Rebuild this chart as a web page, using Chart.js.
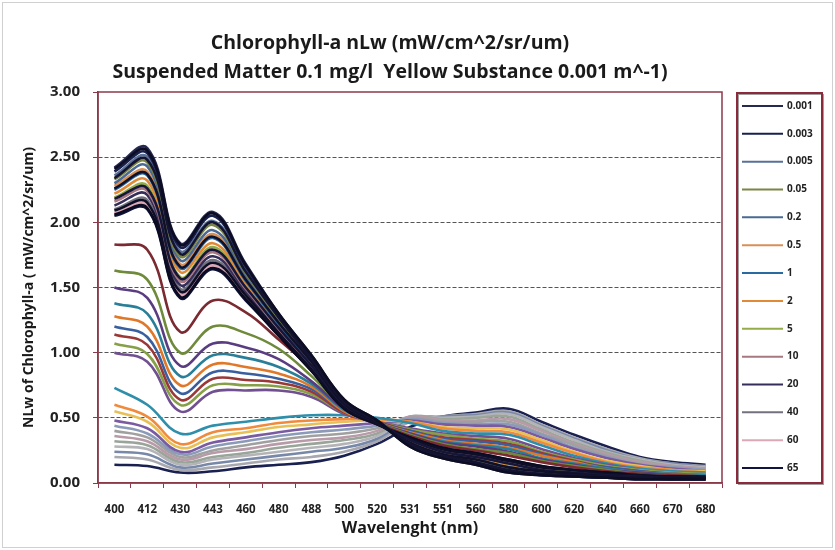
<!DOCTYPE html>
<html><head><meta charset="utf-8">
<script src="https://cdn.jsdelivr.net/npm/chart.js@4"></script>
<style>html,body{margin:0;padding:0;background:#fff}</style>
</head><body>
<canvas id="c" width="835" height="550"></canvas>
<script>
// ---- categories / labels ----
const wavelengths = ["400","412","430","443","460","480","488","500","520","531","551","560","580","600","620","640","660","670","680"];
const yTickLabels = ["0.00","0.50","1.00","1.50","2.00","2.50","3.00"];
const legendLabels = ["0.001","0.003","0.005","0.05","0.2","0.5","1","2","5","10","20","40","60","65"];
const titleLines = ["Chlorophyll-a nLw (mW/cm^2/sr/um)","Suspended Matter 0.1 mg/l  Yellow Substance 0.001 m^-1)"];
const xTitle = "Wavelenght (nm)";
const yTitle = "NLw of Chlorophyll-a ( mW/cm^2/sr/um)";

// ---- series values ----
const a01 = [2.42,2.57,1.84,2.08,1.68,1.30,0.98,0.64,0.48,0.28,0.19,0.14,0.08,0.06,0.05,0.04,0.03,0.03,0.03];
const a02 = [2.39,2.53,1.81,2.05,1.66,1.29,0.97,0.63,0.48,0.29,0.20,0.15,0.09,0.06,0.05,0.04,0.03,0.03,0.03];
const a03 = [2.36,2.50,1.78,2.01,1.64,1.28,0.96,0.63,0.47,0.29,0.20,0.15,0.09,0.07,0.05,0.04,0.03,0.03,0.03];
const a04 = [2.33,2.46,1.74,1.98,1.61,1.26,0.95,0.62,0.47,0.30,0.21,0.16,0.10,0.07,0.06,0.05,0.04,0.03,0.03];
const a05 = [2.30,2.43,1.71,1.94,1.59,1.25,0.94,0.62,0.47,0.30,0.21,0.16,0.11,0.08,0.06,0.05,0.04,0.03,0.03];
const a06 = [2.28,2.39,1.68,1.91,1.57,1.24,0.93,0.61,0.47,0.31,0.22,0.17,0.11,0.08,0.06,0.05,0.04,0.04,0.03];
const a07 = [2.25,2.36,1.65,1.88,1.55,1.22,0.92,0.61,0.46,0.31,0.22,0.18,0.12,0.09,0.07,0.05,0.04,0.04,0.04];
const a08 = [2.22,2.32,1.62,1.84,1.53,1.21,0.92,0.60,0.46,0.32,0.23,0.19,0.13,0.09,0.07,0.06,0.05,0.04,0.04];
const a09 = [2.19,2.28,1.58,1.81,1.51,1.20,0.91,0.60,0.46,0.32,0.24,0.19,0.14,0.10,0.08,0.06,0.05,0.04,0.04];
const a10 = [2.16,2.24,1.55,1.77,1.49,1.18,0.90,0.59,0.46,0.33,0.24,0.20,0.15,0.11,0.08,0.06,0.05,0.04,0.04];
const a11 = [2.13,2.21,1.52,1.74,1.47,1.17,0.89,0.59,0.46,0.33,0.25,0.21,0.16,0.11,0.09,0.07,0.05,0.05,0.04];
const a12 = [2.10,2.17,1.49,1.71,1.45,1.16,0.88,0.58,0.45,0.34,0.26,0.21,0.16,0.12,0.09,0.07,0.06,0.05,0.04];
const a13 = [2.07,2.13,1.45,1.67,1.42,1.14,0.87,0.58,0.45,0.34,0.26,0.22,0.17,0.12,0.10,0.07,0.06,0.05,0.05];
const a14 = [2.05,2.10,1.42,1.64,1.40,1.13,0.86,0.57,0.45,0.35,0.27,0.23,0.18,0.13,0.10,0.08,0.06,0.05,0.05];

// extra dark lines inside the dense top band (not named in the legend)
const d01 = [2.41,2.55,1.83,2.07,1.67,1.30,0.98,0.64,0.48,0.28,0.19,0.14,0.08,0.06,0.05,0.04,0.03,0.03,0.03];
const d02 = [2.34,2.48,1.76,2.00,1.62,1.27,0.95,0.62,0.47,0.30,0.21,0.16,0.10,0.07,0.06,0.05,0.04,0.03,0.03];
const d03 = [2.26,2.37,1.66,1.89,1.56,1.23,0.93,0.61,0.46,0.31,0.22,0.18,0.12,0.09,0.07,0.05,0.04,0.04,0.04];
const d04 = [2.18,2.26,1.57,1.79,1.50,1.19,0.90,0.60,0.46,0.33,0.24,0.20,0.15,0.10,0.08,0.06,0.05,0.04,0.04];
const d05 = [2.09,2.15,1.47,1.69,1.44,1.15,0.87,0.58,0.45,0.34,0.26,0.22,0.17,0.12,0.10,0.07,0.06,0.05,0.05];
const d06 = [2.06,2.11,1.43,1.65,1.41,1.13,0.86,0.57,0.45,0.35,0.27,0.23,0.18,0.13,0.10,0.08,0.06,0.05,0.05];

const b01 = [1.83,1.79,1.16,1.40,1.31,1.10,0.88,0.60,0.46,0.36,0.29,0.25,0.21,0.16,0.12,0.09,0.07,0.06,0.05];
const b02 = [1.63,1.56,1.00,1.20,1.15,1.03,0.82,0.58,0.46,0.37,0.30,0.26,0.23,0.17,0.13,0.10,0.07,0.06,0.05];
const b03 = [1.50,1.42,0.90,1.07,1.04,0.95,0.78,0.57,0.46,0.38,0.31,0.28,0.24,0.18,0.14,0.10,0.08,0.06,0.05];
const b04 = [1.38,1.30,0.82,0.98,0.96,0.89,0.76,0.56,0.46,0.38,0.32,0.29,0.26,0.19,0.15,0.11,0.08,0.07,0.06];
const b05 = [1.28,1.20,0.75,0.91,0.89,0.84,0.74,0.55,0.46,0.39,0.33,0.30,0.27,0.21,0.16,0.11,0.08,0.07,0.06];
const b06 = [1.20,1.12,0.69,0.85,0.84,0.80,0.72,0.55,0.46,0.40,0.34,0.32,0.29,0.22,0.16,0.12,0.09,0.07,0.06];
const b07 = [1.14,1.06,0.64,0.80,0.79,0.77,0.70,0.54,0.47,0.40,0.35,0.33,0.30,0.23,0.17,0.12,0.09,0.07,0.06];
const b08 = [1.07,0.99,0.60,0.75,0.75,0.74,0.68,0.54,0.47,0.41,0.37,0.34,0.32,0.24,0.18,0.13,0.10,0.08,0.07];
const b09 = [1.00,0.93,0.55,0.70,0.71,0.71,0.66,0.53,0.47,0.42,0.38,0.36,0.34,0.26,0.19,0.14,0.10,0.08,0.07];

const c01 = [0.73,0.60,0.38,0.44,0.47,0.50,0.52,0.52,0.50,0.46,0.40,0.38,0.37,0.29,0.21,0.15,0.11,0.09,0.08];
const c02 = [0.60,0.51,0.30,0.39,0.42,0.46,0.48,0.49,0.49,0.47,0.42,0.40,0.39,0.31,0.23,0.16,0.12,0.10,0.08];
const c03 = [0.55,0.47,0.27,0.35,0.39,0.43,0.45,0.47,0.48,0.47,0.43,0.42,0.41,0.33,0.24,0.17,0.13,0.10,0.09];
const c04 = [0.48,0.42,0.24,0.31,0.35,0.39,0.42,0.44,0.46,0.48,0.45,0.44,0.43,0.35,0.26,0.19,0.14,0.11,0.09];
const c05 = [0.44,0.38,0.22,0.28,0.32,0.36,0.39,0.41,0.44,0.49,0.46,0.45,0.45,0.37,0.27,0.20,0.14,0.12,0.10];
const c06 = [0.40,0.35,0.20,0.25,0.29,0.33,0.36,0.38,0.42,0.50,0.47,0.47,0.47,0.38,0.29,0.21,0.15,0.12,0.10];
const c07 = [0.36,0.32,0.18,0.23,0.26,0.30,0.33,0.35,0.40,0.51,0.48,0.48,0.49,0.40,0.30,0.22,0.16,0.13,0.11];
const c08 = [0.32,0.29,0.16,0.20,0.23,0.27,0.30,0.33,0.38,0.51,0.49,0.50,0.51,0.41,0.31,0.23,0.17,0.13,0.11];
const c09 = [0.28,0.26,0.14,0.18,0.21,0.24,0.27,0.30,0.36,0.50,0.50,0.51,0.53,0.43,0.33,0.24,0.18,0.14,0.12];
const c10 = [0.24,0.22,0.12,0.15,0.18,0.21,0.24,0.27,0.34,0.49,0.51,0.52,0.54,0.44,0.34,0.25,0.18,0.15,0.12];
const c11 = [0.20,0.18,0.10,0.12,0.15,0.18,0.20,0.24,0.32,0.47,0.51,0.53,0.55,0.45,0.35,0.26,0.19,0.15,0.13];
const c12 = [0.14,0.13,0.08,0.09,0.12,0.14,0.16,0.21,0.30,0.43,0.51,0.54,0.57,0.47,0.37,0.28,0.20,0.16,0.14];

const seriesList = [a01,a02,a03,a04,a05,a06,a07,a08,a09,a10,a11,a12,a13,a14,
                    d01,d02,d03,d04,d05,d06,
                    b01,b02,b03,b04,b05,b06,b07,b08,b09,
                    c01,c02,c03,c04,c05,c06,c07,c08,c09,c10,c11,c12];
const darkExtras = [d01,d02,d03,d04,d05,d06];

const seriesColors = [
  "#262a50","#18204e","#5a7098","#7a8644","#4a6a94","#d89058","#2a6aa0","#e08a38","#94ac48","#a87880","#352d5a","#72727e","#dca8b6","#10143e",
  "#0c0c22","#141432","#101028","#16163a","#0e0e26","#0a0a20",
  "#7a2a30","#6e8a3a","#5a3d80","#2a7f98","#e0782a","#3a5f9f","#9a3838","#86a048","#705090",
  "#2f8fab","#f08a3c","#e8c058","#7a5aa0","#8a9ab8","#a0a0a0","#b89aa8","#9aa59a","#b4b4b8","#7888a8","#a8a8b0","#1a2050"
];

const datasets = seriesList.map((vals, i) => ({
  label: legendLabels[i] || "",
  data: vals,
  borderColor: seriesColors[i],
  backgroundColor: seriesColors[i],
  borderWidth: 2.6,
  pointRadius: 0,
  tension: 0.4,
  fill: false,
  order: darkExtras.includes(vals) ? -1 : 0
}));

const AXIS = "#8a3a4a";
const FONT = "'Open Sans'";

const framePlugin = {
  id: "frame",
  afterDraw(chart) {
    const {ctx, chartArea: a} = chart;
    ctx.save();
    ctx.strokeStyle = AXIS; ctx.lineWidth = 1.5;
    ctx.strokeRect(a.left, a.top, a.right - a.left, a.bottom - a.top);
    // legend
    const lx = a.right + 15, lw = 85, ly = a.top + 1, lh = a.bottom - a.top - 1;
    ctx.strokeStyle = "#a0a0a0"; ctx.lineWidth = 1;
    ctx.strokeRect(lx + 1.5, ly + 1.5, lw, lh);
    ctx.strokeStyle = "#8a2a3a"; ctx.lineWidth = 2;
    ctx.strokeRect(lx, ly, lw, lh);
    const step = lh / legendLabels.length;
    ctx.font = "bold 10px " + FONT; ctx.textBaseline = "middle"; ctx.textAlign = "left";
    legendLabels.forEach((lab, i) => {
      const y = ly + step * (i + 0.5) - 1;
      ctx.strokeStyle = chart.data.datasets[i].borderColor; ctx.lineWidth = 2;
      ctx.beginPath(); ctx.moveTo(lx + 5, y); ctx.lineTo(lx + 46, y); ctx.stroke();
      ctx.fillStyle = "#222"; ctx.fillText(lab, lx + 50, y);
    });
    ctx.strokeStyle = "#d0d0d0"; ctx.lineWidth = 1;
    ctx.strokeRect(2.5, 2.5, chart.width - 5, chart.height - 5);
    ctx.restore();
  }
};

new Chart(document.getElementById("c"), {
  type: "line",
  data: { labels: wavelengths, datasets },
  plugins: [framePlugin],
  options: {
    responsive: false,
    animation: false,
    events: [],
    layout: { padding: { left: 0, right: 55, top: 0, bottom: 0 } },
    plugins: {
      legend: { display: false },
      tooltip: { enabled: false },
      title: {
        display: true, text: titleLines, color: "#1a1a1a",
        font: { family: FONT, size: 19.5, weight: "bold", lineHeight: 29 / 19.5 },
        padding: { top: 28.5, bottom: 5.5 }
      }
    },
    scales: {
      x: {
        type: "category", offset: true,
        grid: { offset: true, drawOnChartArea: false, drawTicks: true, tickLength: 5, tickColor: AXIS },
        border: { display: true, color: AXIS, width: 1.5 },
        ticks: { color: "#222", font: { family: FONT, size: 11.5, weight: "bold" }, padding: 15, maxRotation: 0, autoSkip: false },
        title: { display: true, text: xTitle, color: "#1a1a1a", font: { family: FONT, size: 16, weight: "bold" }, padding: { top: 0, bottom: 12 } },
        afterFit(s) { s.height = 67; }
      },
      y: {
        min: 0, max: 3,
        grid: {
          color: (c) => (c.tick && (c.tick.value === 0 || c.tick.value === 3)) ? "rgba(0,0,0,0)" : "#555",
          lineWidth: 1, tickColor: AXIS, tickLength: 5
        },
        border: { display: true, color: AXIS, width: 1.5, dash: [4, 2] },
        ticks: {
          stepSize: 0.5, color: "#222", padding: 13,
          font: { family: FONT, size: 15, weight: "bold" },
          callback: (v, i) => yTickLabels[i]
        },
        title: { display: true, text: yTitle, color: "#1a1a1a", font: { family: FONT, size: 14, weight: "bold" }, padding: { top: 21, bottom: 0 } },
        afterFit(s) { s.width = 98; }
      },
      // empty spacer on the right that reserves the legend's room
      yRight: {
        position: "right", min: 0, max: 3,
        grid: { display: false, drawTicks: false },
        border: { display: false },
        ticks: { display: false },
        afterFit(s) { s.width = 58; }
      }
    }
  }
});
</script>
</body></html>
